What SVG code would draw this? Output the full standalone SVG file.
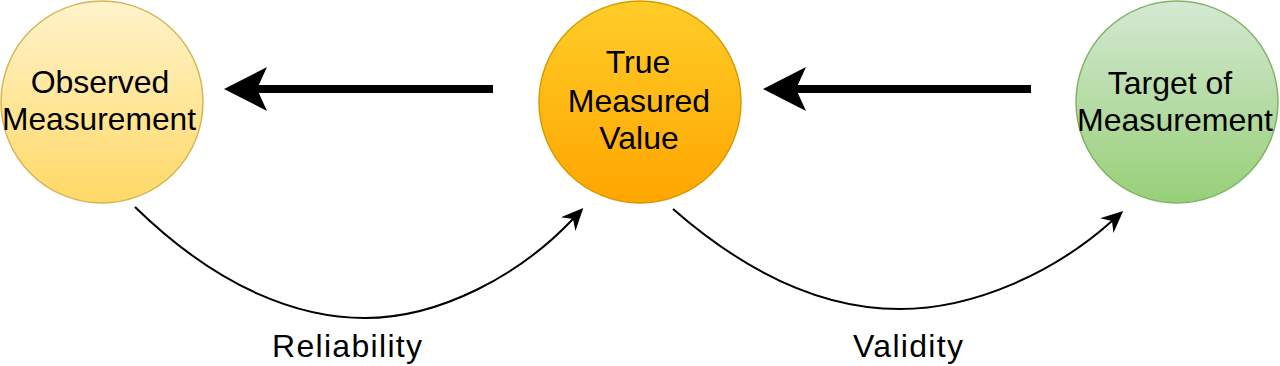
<svg xmlns="http://www.w3.org/2000/svg" width="1280" height="366" viewBox="0 0 1280 366">
  <style>
    .lbl { font-family: "Liberation Sans", Arial, Helvetica, sans-serif; font-size: 32px; fill: #000; text-anchor: middle; }
    .thick { fill: none; stroke: #000; stroke-width: 8; }
    .thin { fill: none; stroke: #000; stroke-width: 2; }
  </style>
  <defs>
    <linearGradient id="gYellow" x1="0" y1="0" x2="0" y2="1">
      <stop offset="0" stop-color="#fff3cc"/>
      <stop offset="1" stop-color="#ffd966"/>
    </linearGradient>
    <linearGradient id="gOrange" x1="0" y1="0" x2="0" y2="1">
      <stop offset="0" stop-color="#ffcd28"/>
      <stop offset="1" stop-color="#ffa500"/>
    </linearGradient>
    <linearGradient id="gGreen" x1="0" y1="0" x2="0" y2="1">
      <stop offset="0" stop-color="#d5e8d4"/>
      <stop offset="1" stop-color="#97d077"/>
    </linearGradient>
    <marker id="bigHead" markerUnits="userSpaceOnUse" viewBox="-45 -24 48 48" markerWidth="48" markerHeight="48" refX="-33" refY="0" orient="auto" overflow="visible">
      <path d="M0,0 L-43,-22 L-33,0 L-43,22 Z" fill="#000"/>
    </marker>
    <marker id="smallHead" markerUnits="userSpaceOnUse" viewBox="-24 -12 26 24" markerWidth="26" markerHeight="24" refX="-15" refY="0" orient="auto" overflow="visible">
      <path d="M0,0 L-22,-10 L-15,0 L-22,10 Z" fill="#000"/>
    </marker>
  </defs>

  <g id="connectors">
    <path class="thick" d="M493,89 L257,89" marker-end="url(#bigHead)"/>
    <path class="thick" d="M1031,89 L796,89" marker-end="url(#bigHead)"/>
    <path class="thin" d="M135,207 C220,290 300,318 365,318 C440,318 520,275 573,219" marker-end="url(#smallHead)"/>
    <path class="thin" d="M673,209 C760,285 835,309 900,309 C975,309 1055,272 1112,221" marker-end="url(#smallHead)"/>
    <text class="lbl" x="347" y="357" textLength="150" lengthAdjust="spacing">Reliability</text>
    <text class="lbl" x="908" y="357" textLength="110" lengthAdjust="spacing">Validity</text>
  </g>

  <g id="observed">
    <circle cx="102" cy="102" r="101" fill="url(#gYellow)" stroke="#d6b656" stroke-width="1.5"/>
    <text class="lbl" x="100" y="93">Observed</text>
    <text class="lbl" x="99" y="130" textLength="194" lengthAdjust="spacingAndGlyphs">Measurement</text>
  </g>

  <g id="true-value">
    <circle cx="640" cy="102" r="101" fill="url(#gOrange)" stroke="#d79b00" stroke-width="1.5"/>
    <text class="lbl" x="638" y="73">True</text>
    <text class="lbl" x="639" y="112">Measured</text>
    <text class="lbl" x="639" y="149">Value</text>
  </g>

  <g id="target">
    <circle cx="1177" cy="102" r="101" fill="url(#gGreen)" stroke="#82b366" stroke-width="1.5"/>
    <text class="lbl" x="1170" y="94">Target of</text>
    <text class="lbl" x="1175" y="131" textLength="196" lengthAdjust="spacingAndGlyphs">Measurement</text>
  </g>
</svg>
